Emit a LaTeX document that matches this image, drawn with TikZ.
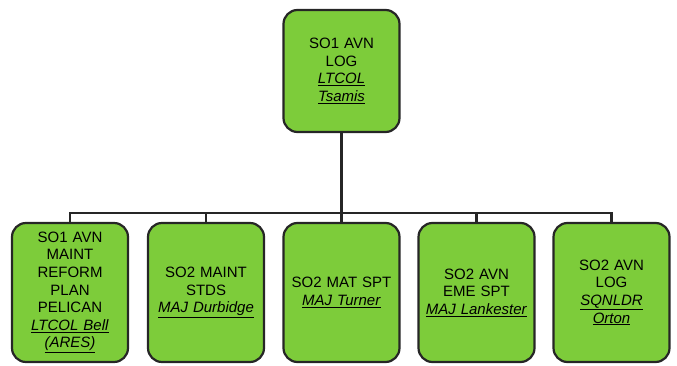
\documentclass[tikz,border=0pt]{standalone}
\usepackage{fontspec}
\setmainfont{Liberation Sans}
\usepackage{tikz}

\definecolor{boxgreen}{RGB}{125,204,58}
\newcommand{\uname}[1]{\underline{\textit{#1}}}

\begin{document}
\begin{tikzpicture}[x=1pt, y=-1pt,
    post/.style={draw=black!85, line width=2.2pt, fill=boxgreen, rounded corners=14pt,
        minimum width=116pt, text width=112pt, align=center, inner sep=2pt,
        font=\fontsize{15}{17.6}\selectfont},
    link/.style={draw=black!85, line width=2.6pt}]
    \useasboundingbox (0,0) rectangle (677,366);

    % Head of section
    \node[post, minimum height=122pt] (so1log) at (341.5,71) {SO1 AVN\\LOG\\\uname{LTCOL}\\\uname{Tsamis}};

    % Subordinate posts
    \node[post, minimum height=139pt] (reform) at (70,292.5) {SO1 AVN\\MAINT\\REFORM\\PLAN\\PELICAN\\\uname{LTCOL Bell}\\\uname{(ARES)}};
    \node[post, minimum height=139pt] (stds) at (206,292.5) {SO2 MAINT\\STDS\\\uname{MAJ Durbidge}};
    \node[post, minimum height=139pt] (matspt) at (341.5,292.5) {SO2 MAT SPT\\\uname{MAJ Turner}};
    \node[post, minimum height=139pt] (emespt) at (476.5,292.5) {SO2 AVN\\EME SPT\\\uname{MAJ Lankester}};
    \node[post, minimum height=139pt] (avnlog) at (611.5,292.5) {SO2 AVN\\LOG\\\uname{SQNLDR}\\\uname{Orton}};

    % Connectors
    \coordinate (bar) at (341.5,213);
    \draw[link] (so1log.south) -- (bar);
    \draw[link] (reform.north) |- (bar) -| (avnlog.north);
    \draw[link] (stds.north) -- (stds.north |- bar);
    \draw[link] (matspt.north) -- (bar);
    \draw[link] (emespt.north) -- (emespt.north |- bar);
\end{tikzpicture}
\end{document}
